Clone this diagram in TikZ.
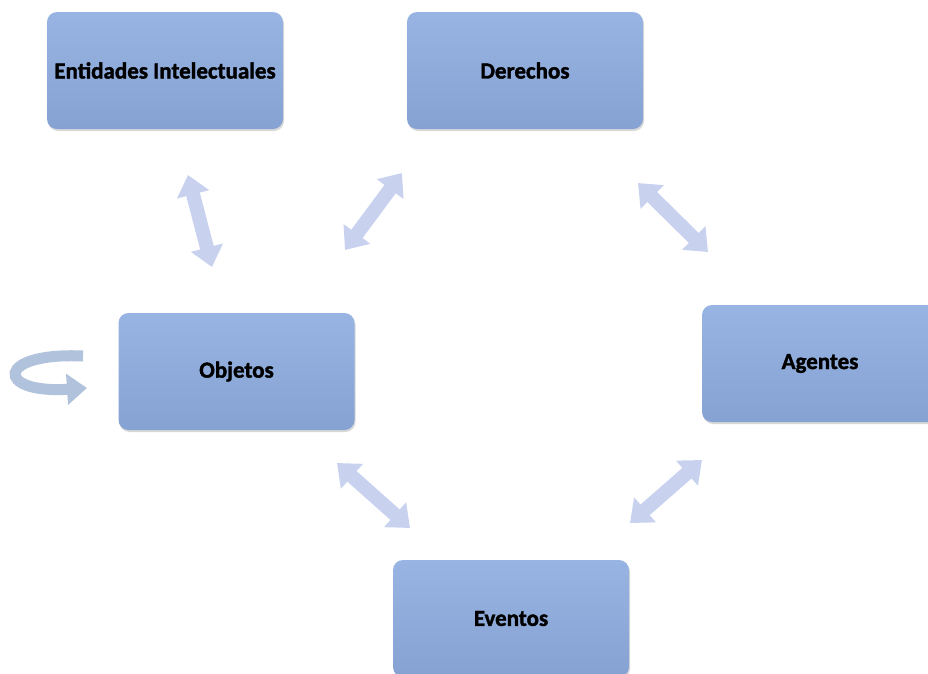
\documentclass[tikz,border=0pt]{standalone}
\usepackage{fontspec}
\setmainfont{Carlito}[BoldFeatures={FakeBold=1.6}]
\usetikzlibrary{positioning,arrows.meta,shadows}
\definecolor{boxblue}{RGB}{140,169,217}
\definecolor{boxtop}{RGB}{152,180,226}
\definecolor{boxlow}{RGB}{133,162,211}
\definecolor{arrblue}{RGB}{200,210,238}
\definecolor{loopblue}{RGB}{176,194,220}
\tikzset{cbox/.style={rounded corners=10pt, minimum width=236pt, minimum height=117pt, inner sep=0pt,
    top color=boxtop, middle color=boxblue, bottom color=boxlow, draw=none,
    font=\fontsize{23}{26}\selectfont\bfseries,
    drop shadow={shadow xshift=1pt, shadow yshift=-2pt, opacity=0.25, fill=black!60}}}
\tikzset{fatarr/.style={draw=arrblue, line width=14pt,
    {Triangle[width=32pt,length=20pt]}-{Triangle[width=32pt,length=20pt]}}}
\tikzset{looparr/.style={draw=loopblue, line width=11pt, -{Triangle[width=30pt,length=20pt]}}}

\begin{document}
\begin{tikzpicture}[x=1pt, y=-1pt]
	\useasboundingbox (0,0) rectangle (928,673);
	\clip (0,0) rectangle (928,673);
	% boxes
	\node[cbox] (ent) at (165,70.5) {Entidades Intelectuales};
	\node[cbox] (der) at (525,70.5) {Derechos};
	\node[cbox] (obj) at (236.5,371.5) {Objetos};
	\node[cbox] (age) at (820,363.5) {Agentes};
	\node[cbox] (eve) at (511,618.5) {Eventos};
	% arrow ends
	\coordinate (e1) at (188,175);  \coordinate (o1) at (212,267);
	\coordinate (d1) at (402,173);  \coordinate (o2) at (345,250);
	\coordinate (d2) at (638,183);  \coordinate (a1) at (708,252);
	\coordinate (o3) at (337,463);  \coordinate (v1) at (410,528);
	\coordinate (a2) at (702,460);  \coordinate (v2) at (630,523);
	\coordinate (l1) at (83,356);   \coordinate (l2) at (87,388);
	% connectors
	\draw[fatarr] (e1) -- (o1);
	\draw[fatarr] (d1) -- (o2);
	\draw[fatarr] (d2) -- (a1);
	\draw[fatarr] (o3) -- (v1);
	\draw[fatarr] (a2) -- (v2);
	\draw[looparr] (l1) .. controls (-5,352) and (-5,394) .. (l2);
\end{tikzpicture}
\end{document}
